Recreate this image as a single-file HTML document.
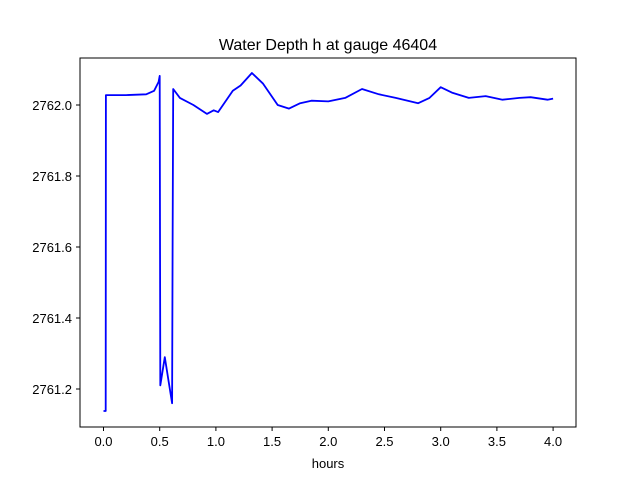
<!DOCTYPE html>
<html><head><meta charset="utf-8"><style>
body{margin:0;background:#fff;}
svg{display:block;font-family:"Liberation Sans","DejaVu Sans",sans-serif;}
</style></head><body>
<svg id="c" width="640" height="480" viewBox="0 0 640 480">
<rect width="640" height="480" fill="#fff"/>
<text x="328" y="50" font-size="16" text-anchor="middle">Water Depth h at gauge 46404</text>
<g id="plot"></g>
<rect x="80" y="58" width="496" height="369" fill="none" stroke="#000" stroke-width="1"/>
<g id="xt" font-size="13" text-anchor="middle"></g>
<g id="yt" font-size="13" text-anchor="end"></g>
<text x="328" y="468" font-size="13" text-anchor="middle">hours</text>
</svg>
<script>
const xTicks=[0,0.5,1,1.5,2,2.5,3,3.5,4];
const yTicks=[2761.2,2761.4,2761.6,2761.8,2762.0];
const times=[0,0.02,0.021,0.2,0.38,0.45,0.49,0.5,0.505,0.545,0.58,0.61,0.615,0.62,0.68,0.8,0.92,0.98,1.02,1.15,1.22,1.32,1.42,1.55,1.65,1.75,1.85,2.0,2.15,2.3,2.45,2.6,2.8,2.9,3.0,3.1,3.25,3.4,3.55,3.7,3.8,3.95,4.0];
const depth=[2761.138,2761.138,2762.028,2762.028,2762.03,2762.04,2762.065,2762.082,2761.21,2761.29,2761.22,2761.16,2761.6,2762.045,2762.02,2762.0,2761.975,2761.985,2761.98,2762.04,2762.055,2762.09,2762.06,2762.0,2761.99,2762.005,2762.012,2762.01,2762.02,2762.045,2762.03,2762.02,2762.005,2762.02,2762.05,2762.035,2762.02,2762.025,2762.015,2762.02,2762.022,2762.015,2762.018];
const sx=t=>103.5+t*112.4;
const sy=v=>105+(2762-v)*355;
const NS="http://www.w3.org/2000/svg";
const plot=document.getElementById('plot');
let d='';
times.forEach((t,i)=>{d+=(i?'L':'M')+sx(t).toFixed(1)+','+sy(depth[i]).toFixed(1);});
const p=document.createElementNS(NS,'path');
p.setAttribute('d',d);p.setAttribute('fill','none');p.setAttribute('stroke','#0000ff');p.setAttribute('stroke-width','1.8');p.setAttribute('stroke-linejoin','round');


plot.appendChild(p);
const xt=document.getElementById('xt');
xTicks.forEach(t=>{
const g=document.createElementNS(NS,'g');


g.innerHTML=`<line x1="${sx(t)}" x2="${sx(t)}" y1="427" y2="431" stroke="#000"/><text x="${sx(t)}" y="446">${t.toFixed(1)}</text>`;
xt.appendChild(g);});
const yt=document.getElementById('yt');
yTicks.forEach(v=>{
const g=document.createElementNS(NS,'g');


g.innerHTML=`<line x1="76" x2="80" y1="${sy(v)}" y2="${sy(v)}" stroke="#000"/><text x="72" y="${sy(v)+5}">${v.toFixed(1)}</text>`;
yt.appendChild(g);});
</script>
</body></html>
